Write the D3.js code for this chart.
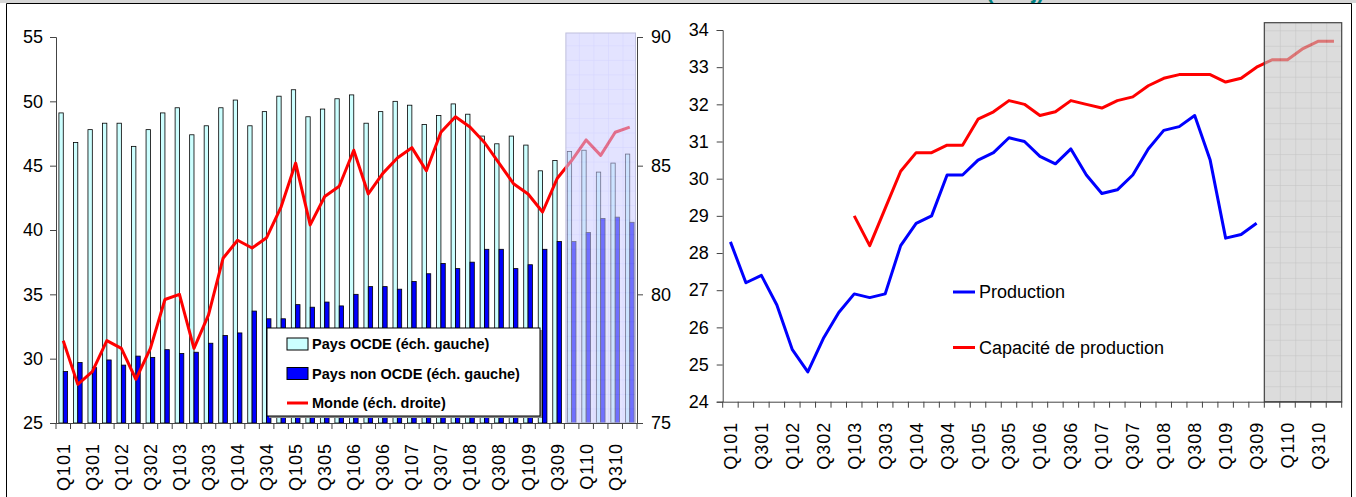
<!DOCTYPE html>
<html>
<head>
<meta charset="utf-8">
<script src="https://cdn.jsdelivr.net/npm/d3@7"></script>
<style>
body { margin: 0; background: #fff; }
text { font-family: "Liberation Sans", Arial, sans-serif; fill: #000; }
.tick text { font-size: 18px; }
</style>
</head>
<body>
<div id="drawing"></div>
<script>
"use strict"

/**** DATA ****/

let quarters = [
"Q101","Q201","Q301","Q401","Q102","Q202","Q302","Q402",
"Q103","Q203","Q303","Q403","Q104","Q204","Q304","Q404",
"Q105","Q205","Q305","Q405","Q106","Q206","Q306","Q406",
"Q107","Q207","Q307","Q407","Q108","Q208","Q308","Q408",
"Q109","Q209","Q309","Q409","Q110","Q210","Q310","Q410"
]

// labelled every other quarter
let quarterLabels = quarters.filter((q,i) => i%2 == 0)

let forecastStart = "Q409"

// left chart: demande (Mb/j)
let ocde = [
49.1,46.8,47.8,48.3,48.3,46.5,47.8,49.1,49.5,47.4,
48.1,49.5,50.1,48.1,49.2,50.4,50.9,48.8,49.4,50.2,
50.5,48.3,49.2,50.0,49.7,48.2,48.9,49.8,49.0,47.3,
46.7,47.3,46.6,44.6,45.4,46.1,46.2,44.5,45.2,45.9
]
let nonOcde = [
29.0,29.7,29.3,29.9,29.5,30.2,30.1,30.7,30.4,30.5,
31.2,31.8,32.0,33.7,33.1,33.1,34.2,34.0,34.4,34.1,
35.0,35.6,35.6,35.4,36.0,36.6,37.4,37.0,37.5,38.5,
38.5,37.0,37.3,38.5,39.1,39.1,39.8,40.9,41.0,40.6
]
let monde = [
78.2,76.5,77.0,78.2,77.9,76.7,77.9,79.8,80.0,77.9,
79.2,81.4,82.1,81.8,82.2,83.4,85.1,82.7,83.8,84.2,
85.6,83.9,84.7,85.3,85.7,84.8,86.3,86.9,86.5,85.9,
85.1,84.3,83.9,83.2,84.5,85.2,86.0,85.4,86.3,86.5
]

let leftSeries = ["Pays OCDE (éch. gauche)", "Pays non OCDE (éch. gauche)", "Monde (éch. droite)"]
let leftTicks = [25,30,35,40,45,50,55]
let rightTicks = [75,80,85,90]

// right chart
let production = [
28.3,27.2,27.4,26.6,25.4,24.8,25.7,26.4,26.9,26.8,
26.9,28.2,28.8,29.0,30.1,30.1,30.5,30.7,31.1,31.0,
30.6,30.4,30.8,30.1,29.6,29.7,30.1,30.8,31.3,31.4,
31.7,30.5,28.4,28.5,28.8,null,null,null,null,null
]
let capacite = [
null,null,null,null,null,null,null,null,29.0,28.2,
29.2,30.2,30.7,30.7,30.9,30.9,31.6,31.8,32.1,32.0,
31.7,31.8,32.1,32.0,31.9,32.1,32.2,32.5,32.7,32.8,
32.8,32.8,32.6,32.7,33.0,33.2,33.2,33.5,33.7,33.7
]
let prodSeries = ["Production", "Capacité de production"]
let prodTicks = [24,25,26,27,28,29,30,31,32,33,34]


/**** CANVAS ****/

let svgWidth = 1356
let svgHeight = 497

let svg = d3.select("#drawing")
.append("svg")
.attr("width", svgWidth)
.attr("height", svgHeight)

let defs = svg.append("defs")

// frame
svg.append("rect")
.attr("x",0).attr("y",0)
.attr("width",svgWidth).attr("height",3)
.attr("fill","#d6d6d6")

// title, cut off at the top as in the source
svg.append("text")
.attr("x",986)
.attr("y",-2)
.style("fill","#008080")
.style("font-size","22px")
.style("font-weight","bold")
.text("(Mb/j)")

svg.append("path")
.attr("d","M6.5," + svgHeight + "V3.5H1351.5V" + svgHeight)
.attr("fill","none")
.attr("stroke","#000")


/**** LEFT CHART ****/

let L = {x0:56, x1:637, yTop:37, yBot:423}

let xL = d3.scaleBand()
.domain(quarters)
.range([L.x0, L.x1])

let xSub = d3.scaleBand()
.domain(["ocde","non"])
.range([0, xL.bandwidth()])
.paddingOuter(0.67)

let yL = d3.scaleLinear()
.domain([25,55])
.range([L.yBot, L.yTop])

let yR = d3.scaleLinear()
.domain([75,90])
.range([L.yBot, L.yTop])

let left = svg.append("g")

left.selectAll("rect.ocde")
.data(ocde)
.join("rect")
.attr("class","ocde")
.attr("x",(d,i)=>xL(quarters[i]) + xSub("ocde"))
.attr("y",d=>yL(d))
.attr("width",xSub.bandwidth())
.attr("height",d=>yL(25)-yL(d))
.attr("fill","#ccffff")
.attr("stroke","#000")
.attr("stroke-width",0.8)

left.selectAll("rect.non")
.data(nonOcde)
.join("rect")
.attr("class","non")
.attr("x",(d,i)=>xL(quarters[i]) + xSub("non"))
.attr("y",d=>yL(d))
.attr("width",xSub.bandwidth())
.attr("height",d=>yL(25)-yL(d))
.attr("fill","#0000ff")
.attr("stroke","#000")
.attr("stroke-width",0.8)

let mondeLine = d3.line()
.x((d,i)=>xL(quarters[i]) + xL.bandwidth()/2)
.y(d=>yR(d))

left.append("path")
.datum(monde)
.attr("d",mondeLine)
.attr("fill","none")
.attr("stroke","#ff0000")
.attr("stroke-width",3)
.attr("stroke-linejoin","round")

// forecast zone
let gridL = defs.append("pattern")
.attr("id","gridL")
.attr("patternUnits","userSpaceOnUse")
.attr("x",xL(forecastStart))
.attr("y",L.yBot)
.attr("width",xL.step())
.attr("height",xL.step())
gridL.append("rect")
.attr("width",xL.step()).attr("height",xL.step())
.attr("fill","#ccccff")
gridL.append("path")
.attr("d","M0,0H" + xL.step() + "M0,0V" + xL.step())
.attr("stroke","#b0b0ff")
.attr("stroke-width",1)

left.append("rect")
.attr("x",xL(forecastStart) + 1.5)
.attr("y",yL(55) - 4)
.attr("width",L.x1 - xL(forecastStart) - 3)
.attr("height",L.yBot - yL(55) + 4)
.attr("fill","url(#gridL)")
.attr("fill-opacity",0.55)
.attr("stroke","#c0c0dd")

// axes
left.append("g")
.attr("transform","translate(" + L.x0 + ",0)")
.call(d3.axisLeft(yL).tickValues(leftTicks).tickSize(6).tickPadding(7))
left.append("g")
.attr("transform","translate(" + L.x1 + ",0)")
.call(d3.axisRight(yR).tickValues(rightTicks).tickSize(6).tickPadding(8))

left.append("g")
.attr("transform","translate(0," + L.yBot + ")")
.call(d3.axisBottom(xL).tickValues(quarterLabels).tickSize(0).tickPadding(0))

left.selectAll(".domain").attr("stroke","#444")
left.selectAll(".tick line").attr("stroke","#444")

// boundary ticks
left.selectAll("line.qtick")
.data(quarters.concat(["end"]))
.join("line")
.attr("class","qtick")
.attr("x1",d=>d=="end" ? L.x1 : xL(d))
.attr("x2",d=>d=="end" ? L.x1 : xL(d))
.attr("y1",L.yBot)
.attr("y2",L.yBot + 6)
.attr("stroke","#444")


/**** RIGHT CHART ****/

let R = {x0:722.7, x1:1341.7, yTop:30, yBot:401.7}

let xP = d3.scaleBand()
.domain(quarters)
.range([R.x0, R.x1])

let yP = d3.scaleLinear()
.domain([24,34])
.range([R.yBot, R.yTop])

let right = svg.append("g")

let prodLine = d3.line()
.defined(d=>d != null)
.x((d,i)=>xP(quarters[i]) + xP.bandwidth()/2)
.y(d=>yP(d))

right.append("path")
.datum(production)
.attr("d",prodLine)
.attr("fill","none")
.attr("stroke","#0000ff")
.attr("stroke-width",3)
.attr("stroke-linejoin","round")

right.append("path")
.datum(capacite)
.attr("d",prodLine)
.attr("fill","none")
.attr("stroke","#ff0000")
.attr("stroke-width",3)
.attr("stroke-linejoin","round")

let gridP = defs.append("pattern")
.attr("id","gridP")
.attr("patternUnits","userSpaceOnUse")
.attr("x",xP(forecastStart))
.attr("y",R.yBot)
.attr("width",xP.step())
.attr("height",xP.step())
gridP.append("rect")
.attr("width",xP.step()).attr("height",xP.step())
.attr("fill","#c4c4c4")
gridP.append("path")
.attr("d","M0,0H" + xP.step() + "M0,0V" + xP.step())
.attr("stroke","#9a9a9a")
.attr("stroke-width",1)

right.append("rect")
.attr("x",xP(forecastStart))
.attr("y",yP(34) - 7.3)
.attr("width",R.x1 - xP(forecastStart))
.attr("height",R.yBot - yP(34) + 7.3)
.attr("fill","url(#gridP)")
.attr("fill-opacity",0.6)
.attr("stroke","#444")
.attr("stroke-width",1.2)

right.append("g")
.attr("transform","translate(" + R.x0 + ",0)")
.call(d3.axisLeft(yP).tickValues(prodTicks).tickSize(6).tickPadding(8))

right.append("g")
.attr("transform","translate(0," + R.yBot + ")")
.call(d3.axisBottom(xP).tickValues(quarterLabels).tickSize(0).tickPadding(0))

right.selectAll(".domain").attr("stroke","#444")
right.selectAll(".tick line").attr("stroke","#444")

right.selectAll("line.qtick")
.data(quarters.concat(["end"]))
.join("line")
.attr("class","qtick")
.attr("x1",d=>d=="end" ? R.x1 : xP(d))
.attr("x2",d=>d=="end" ? R.x1 : xP(d))
.attr("y1",R.yBot)
.attr("y2",R.yBot + 6)
.attr("stroke","#444")

// rotated quarter labels
svg.selectAll(".tick text")
.filter(function(){ return quarters.includes(this.textContent) })
.attr("transform","rotate(-90)")
.attr("x",-20)
.attr("y",0)
.attr("dy","0.36em")
.style("text-anchor","end")
.style("letter-spacing","1px")


/**** LEGENDS ****/

let legL = svg.append("g")
.attr("transform","translate(267,328)")

legL.append("rect")
.attr("x",2).attr("y",2)
.attr("width",273)
.attr("height",88)
.attr("fill","#888")

legL.append("rect")
.attr("width",273)
.attr("height",88)
.attr("fill","#fff")
.attr("stroke","#000")

legL.selectAll("g.row")
.data(leftSeries)
.join("g")
.attr("class","row")
.attr("transform",(d,i)=>"translate(0," + (16 + i*29.5) + ")")
.each(function(d,i){
let g = d3.select(this)
if(i < 2){
g.append("rect")
.attr("x",20).attr("y",-6)
.attr("width",21).attr("height",12)
.attr("fill",i==0 ? "#ccffff" : "#0000ff")
.attr("stroke","#000")
}else{
g.append("line")
.attr("x1",20).attr("x2",41)
.attr("stroke","#ff0000")
.attr("stroke-width",3)
}
g.append("text")
.attr("x",45)
.attr("dy","0.36em")
.style("font-size","14.5px")
.style("font-weight","bold")
.text(d)
})

let legP = svg.append("g")
.attr("transform","translate(953,292)")

legP.selectAll("g")
.data(prodSeries)
.join("g")
.attr("transform",(d,i)=>"translate(0," + (i*55.5) + ")")
.each(function(d,i){
let g = d3.select(this)
g.append("line")
.attr("x1",0).attr("x2",22)
.attr("stroke",i==0 ? "#0000ff" : "#ff0000")
.attr("stroke-width",3)
g.append("text")
.attr("x",26)
.attr("dy","0.36em")
.style("font-size","18px")
.text(d)
})
</script>
</body>
</html>
